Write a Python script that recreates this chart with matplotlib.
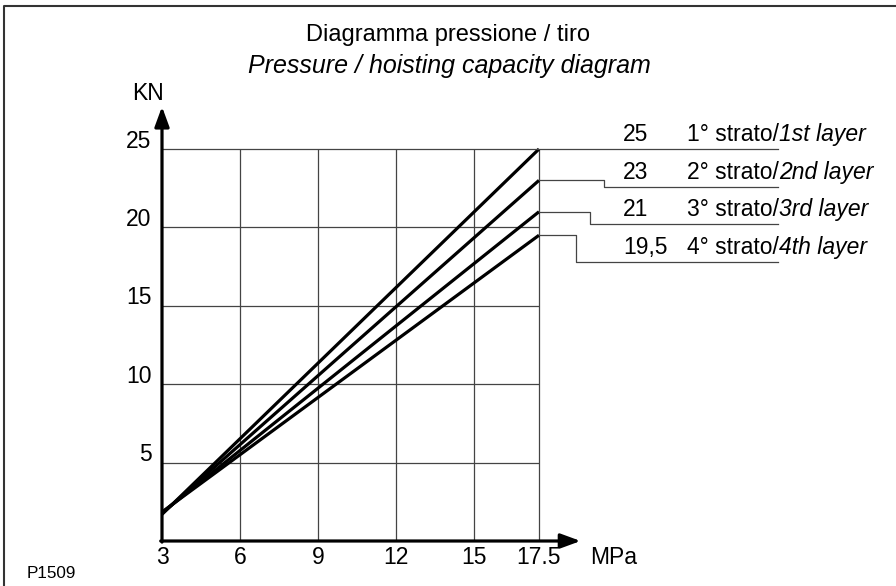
import matplotlib.pyplot as plt
import numpy as np

plt.rcParams['font.family'] = ['Liberation Sans', 'DejaVu Sans']

# data
pressure_ticks = [3, 6, 9, 12, 15, 17.5]
force_ticks = [5, 10, 15, 20, 25]
p_start = 3
p_end = 17.5
force_start = [1.7, 1.75, 1.8, 1.85]
force_end = [25, 23, 21, 19.5]
end_labels = ["25", "23", "21", "19,5"]
layer_it = ["1° strato/", "2° strato/", "3° strato/", "4° strato/"]
layer_en = ["1st layer", "2nd layer", "3rd layer", "4th layer"]

# leader line layout (step x, underline y)
step_x = [20.0, 20.0, 19.46, 18.92]
label_y = [25, 22.58, 20.22, 17.79]
label_end_x = 26.7

fs = 16.5
fig = plt.figure(figsize=(8.96, 5.86), dpi=100)
ax = fig.add_axes([0, 0, 1, 1])
ax.set_xlim(-3.2308, 31.2308)
ax.set_ylim(-2.870, 34.503)
ax.axis('off')

grid_c = "#444444"
# grid
ax.vlines(pressure_ticks[1:], 0, 25, color=grid_c, lw=0.9)
ax.hlines(force_ticks[:-1], p_start, p_end, color=grid_c, lw=0.9)

# data lines
for s, e in zip(force_start, force_end):
    ax.plot([p_start, p_end], [s, e], color="black", lw=2.3, solid_capstyle='butt')

# leader lines + labels
for i in range(4):
    ys = force_end[i]
    yl = label_y[i]
    if i == 0:
        ax.plot([p_start, label_end_x], [ys, ys], color=grid_c, lw=0.9)
    else:
        ax.plot([p_end, step_x[i], step_x[i], label_end_x], [ys, ys, yl, yl],
                color=grid_c, lw=0.9)
    ax.text(20.73, yl + 0.5, end_labels[i], fontsize=fs, va='baseline', ha='left')
    t = ax.text(23.2, yl + 0.5, layer_it[i], fontsize=fs, va='baseline', ha='left')
    ax.annotate(layer_en[i], xy=(1, 0), xycoords=t, va='bottom', ha='left',
                fontsize=fs, style='italic')

# axes with arrows
ax.annotate('', xy=(19.1, 0), xytext=(p_start - 0.05, 0),
            arrowprops=dict(arrowstyle='-|>,head_length=0.6,head_width=0.22',
                            lw=2.3, color='black', mutation_scale=20,
                            shrinkA=0, shrinkB=0))
ax.annotate('', xy=(p_start, 27.7), xytext=(p_start, -0.07),
            arrowprops=dict(arrowstyle='-|>,head_length=0.6,head_width=0.22',
                            lw=2.3, color='black', mutation_scale=20,
                            shrinkA=0, shrinkB=0))

# tick labels
for p in pressure_ticks:
    lab = ("%g" % p)
    ax.text(p, -1.08, lab, fontsize=fs, ha='center', va='center')
for f in force_ticks:
    ax.text(2.6, f + 0.5, str(f), fontsize=fs, ha='right', va='center')

ax.text(2.45, 28.57, "KN", fontsize=fs, ha='center', va='center')
ax.text(19.46, -1.08, "MPa", fontsize=fs, ha='left', va='center')
ax.text(0.03, 0.022, "P1509", fontsize=12.3, ha='left', va='center',
        transform=fig.transFigure)

# title
ax.text(0.5, 0.94, "Diagramma pressione / tiro", fontsize=17,
        ha='center', va='center', transform=fig.transFigure)
ax.text(0.502, 0.888, "Pressure / hoisting capacity diagram", fontsize=18,
        ha='center', va='center', style='italic', transform=fig.transFigure)

# frame (top and left)
fig.add_artist(plt.Line2D([4 / 896, 4 / 896, 1], [0, 1 - 6 / 586, 1 - 6 / 586],
                          transform=fig.transFigure, color="#333333", lw=1.5))

fig.savefig("out.png", dpi=100)
